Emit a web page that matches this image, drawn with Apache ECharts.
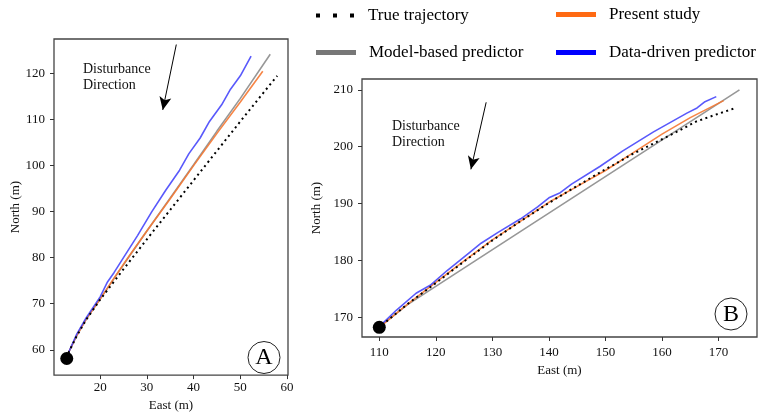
<!DOCTYPE html>
<html>
<head>
<meta charset="utf-8">
<script src="https://cdn.jsdelivr.net/npm/echarts@6/dist/echarts.min.js"></script>
<style>
  html, body { margin: 0; padding: 0; background: #fff; }
  #chart { width: 770px; height: 417px; }
</style>
</head>
<body>
<div id="chart"></div>
<script>
// ---- data: panel A (East, North in m) ----
var trueA = [[13.2,59.3],[15,63],[17,66.5],[20,70.9],[25,77.5],[30,84.0],[35,90.4],[40,96.8],[45,103.2],[50,109.6],[55,115.9],[57.9,119.5]];
var presentA = [[13.2,59.3],[15,63.1],[17,66.6],[20,71.0],[23,75.6],[26.1,80.2],[30,85.8],[35,92.8],[40,100.0],[45,107.0],[50,113.8],[54.8,120.5]];
var modelA = [[13.2,59.3],[15,63.1],[17,66.6],[20,71.0],[23,75.5],[26.1,80.1],[30,85.8],[35,93.0],[40,100.2],[45,107.5],[50,114.6],[56.4,124.2]];
var dataA = [[13.2,59.3],[15,63.4],[17,66.9],[20,71.5],[21.5,74.6],[23,76.8],[25,80.0],[28,84.8],[31,89.9],[34,94.6],[37,99.0],[39,102.6],[41.4,106.0],[43.4,109.6],[46,113.2],[47.9,116.6],[50,119.5],[52.3,123.8]];
var startA = [[12.86,58.1]];

// ---- data: panel B ----
var trueB = [[110.5,168.6],[115,172.3],[120,176.0],[125,179.8],[130,183.5],[135,186.9],[140,190.1],[145,193.1],[150,196.0],[155,198.8],[160,201.3],[163,202.8],[166,204.4],[170,205.8],[173,206.8]];
var presentB = [[110.5,168.6],[115,172.3],[120,176.1],[125,179.9],[130,183.6],[135,186.9],[140,190.2],[145,193.0],[150,195.8],[155,199.0],[160,202.2],[165,205.1],[170.9,208.1]];
var modelB = [[110.5,168.7],[115,172.2],[135,185.1],[173.7,210.0]];
var dataB = [[110.5,168.8],[113,171.2],[116.5,174.2],[119,175.6],[122,178.2],[126,181.4],[128,183.0],[131,184.9],[135,187.3],[138,189.4],[140,191.0],[142,191.9],[144,193.4],[149,196.5],[153,199.2],[158.5,202.6],[164.4,205.9],[166.2,206.8],[167.6,207.9],[169.6,208.8]];
var startB = [[110,168.2]];

// ---- ticks ----
var xTicksA = [20, 30, 40, 50, 60];
var yTicksA = [60, 70, 80, 90, 100, 110, 120];
var xTicksB = [110, 120, 130, 140, 150, 160, 170];
var yTicksB = [170, 180, 190, 200, 210];

// ---- disturbance arrows (data coords) ----
var arrowA = [[36.3,126.3],[33.4,112.1]];
var arrowB = [[128.9,207.8],[126.2,196.0]];

var names = ['True trajectory', 'Present study', 'Model-based predictor', 'Data-driven predictor'];
var colors = ['#000000', '#ff6a13', '#777777', '#0000ff'];
var lineColors = ['#000000', 'rgba(245,120,50,0.9)', 'rgba(140,140,140,0.9)', 'rgba(60,60,250,0.85)'];

var FONT = 'Liberation Serif';

function valAxis(grid, min, max, ticks, extra) {
    var ax = {
        type: 'value', gridIndex: grid, min: min, max: max,
        splitLine: { show: false },
        axisLine: { show: false },
        axisTick: { show: true, customValues: ticks, length: 4, lineStyle: { color: '#333', width: 1 } },
        axisLabel: { customValues: ticks, fontFamily: FONT, fontSize: 13, color: '#111' },
        nameLocation: 'middle',
        nameTextStyle: { fontFamily: FONT, fontSize: 13, color: '#111' }
    };
    for (var k in extra) {
        if (k === 'axisLabel') { for (var j in extra[k]) ax.axisLabel[j] = extra[k][j]; }
        else ax[k] = extra[k];
    }
    return ax;
}

function lineSeries(i, data, xi, yi) {
    var s = {
        name: names[i], type: 'line', data: data, xAxisIndex: xi, yAxisIndex: yi,
        showSymbol: false, symbol: 'none', smooth: false, animation: false, z: i === 0 ? 5 : 3,
        lineStyle: { color: lineColors[i], width: 1.6 },
        itemStyle: { color: colors[i] }
    };
    if (i === 0) s.lineStyle = { color: '#000', width: 2, type: [2, 3.5] };
    return s;
}

function arrowSeries(xi, yi, pts) {
    return {
        type: 'line', data: [], xAxisIndex: xi, yAxisIndex: yi, silent: true,
        markLine: {
            silent: true, animation: false,
            symbol: ['none', 'arrow'], symbolSize: [9, 13],
            lineStyle: { color: '#000', width: 1, type: 'solid' },
            label: { show: false },
            data: [[{ coord: pts[0] }, { coord: pts[1] }]]
        }
    };
}

function startSeries(xi, yi, pt) {
    return {
        type: 'scatter', data: pt, xAxisIndex: xi, yAxisIndex: yi,
        symbolSize: 13, itemStyle: { color: '#000', opacity: 1 }, z: 10, silent: true
    };
}

var dotIcon = 'path://M0,0h4v4h-4z M17,0h4v4h-4z M34,0h4v4h-4z';

function legend(i, left, top, icon, h) {
    return {
        left: left, top: top, padding: 0, itemWidth: 40, itemHeight: h,
        selectedMode: false,
        data: [{ name: names[i], icon: icon, itemStyle: { color: colors[i] } }],
        textStyle: { fontFamily: FONT, fontSize: 17, color: '#000', padding: [0, 0, 0, 8] }
    };
}

var chart = echarts.init(document.getElementById('chart'), null, { renderer: 'canvas' });

var option = {
    backgroundColor: '#fff',
    animation: false,
    legend: [
        legend(0, 316, 7, dotIcon, 4),
        legend(1, 556, 6, 'rect', 5),
        legend(2, 316, 44, 'rect', 5),
        legend(3, 556, 44, 'rect', 5)
    ],
    grid: [
        { left: 54, top: 39, width: 234, height: 342, show: true, borderColor: '#444', borderWidth: 1.3 },
        { left: 362, top: 79, width: 395, height: 258, show: true, borderColor: '#444', borderWidth: 1.3 }
    ],
    xAxis: [
        valAxis(0, 10.13, 60.2, xTicksA, { name: 'East (m)', nameGap: 22, axisLabel: { margin: 6 } }),
        valAxis(1, 106.94, 176.8, xTicksB, { name: 'East (m)', nameGap: 26, axisLabel: { margin: 9 } })
    ],
    yAxis: [
        valAxis(0, 54.5, 127.5, yTicksA, { name: 'North (m)', nameGap: 32, axisLabel: { margin: 9 } }),
        valAxis(1, 166.5, 211.9, yTicksB, { name: 'North (m)', nameGap: 38, axisLabel: { margin: 9 } })
    ],
    graphic: [
        { type: 'text', left: 83, top: 61, style: { text: 'Disturbance\nDirection', font: '14px "Liberation Serif"', fill: '#111', lineHeight: 16 } },
        { type: 'text', left: 392, top: 118, style: { text: 'Disturbance\nDirection', font: '14px "Liberation Serif"', fill: '#111', lineHeight: 16 } },
        { type: 'circle', shape: { cx: 264, cy: 357.5, r: 16 }, style: { fill: '#fff', stroke: '#222', lineWidth: 1 }, z: 20 },
        { type: 'text', x: 264, y: 358, style: { text: 'A', font: '24px "Liberation Serif"', fill: '#000', align: 'center', verticalAlign: 'middle' }, z: 21 },
        { type: 'circle', shape: { cx: 731, cy: 314, r: 16 }, style: { fill: '#fff', stroke: '#222', lineWidth: 1 }, z: 20 },
        { type: 'text', x: 731, y: 315, style: { text: 'B', font: '24px "Liberation Serif"', fill: '#000', align: 'center', verticalAlign: 'middle' }, z: 21 }
    ],
    series: [
        lineSeries(2, modelA, 0, 0),
        lineSeries(1, presentA, 0, 0),
        lineSeries(3, dataA, 0, 0),
        lineSeries(0, trueA, 0, 0),
        lineSeries(2, modelB, 1, 1),
        lineSeries(1, presentB, 1, 1),
        lineSeries(3, dataB, 1, 1),
        lineSeries(0, trueB, 1, 1),
        startSeries(0, 0, startA),
        startSeries(1, 1, startB),
        arrowSeries(0, 0, arrowA),
        arrowSeries(1, 1, arrowB)
    ]
};

chart.setOption(option);
</script>
</body>
</html>
